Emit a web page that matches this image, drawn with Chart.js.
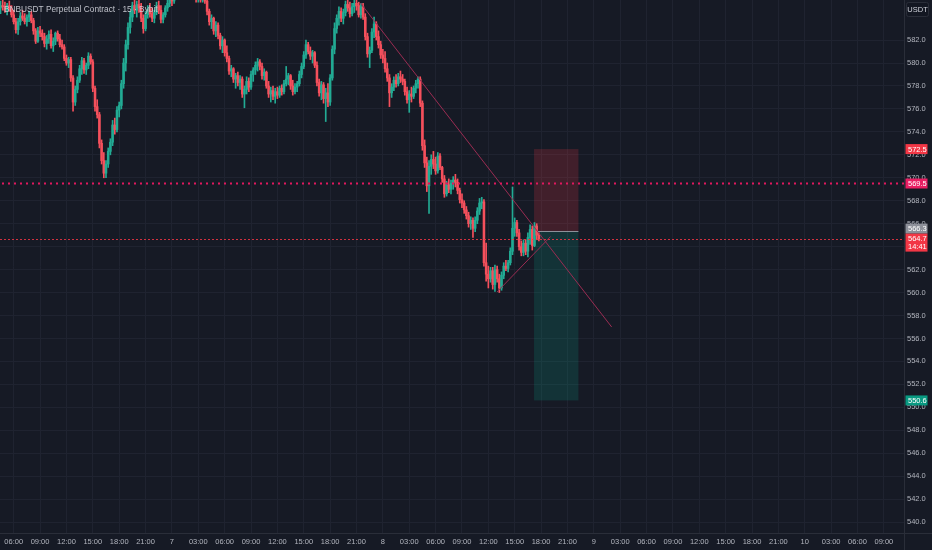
<!DOCTYPE html>
<html>
<head>
<meta charset="utf-8">
<script src="https://cdn.jsdelivr.net/npm/chart.js@4.4.1/dist/chart.umd.min.js"></script>
<style>
  html, body { margin: 0; padding: 0; background: #161a25; overflow: hidden; }
  canvas { display: block; }
</style>
</head>
<body>
<canvas id="chart" width="932" height="550"></canvas>
<script>
// BNBUSDT perpetual, 15 min candles (hours counted from day 6 00:00)
const firstBarHour = 4.5;
const barStepHours = 0.25;

const opens = [
  584.8, 585.0, 584.9, 584.6, 585.0, 584.7, 584.2, 583.6, 582.9, 583.6, 584.1, 583.9, 583.6, 584.0, 584.2, 583.7,
  582.8, 581.9, 582.8, 582.6, 582.3, 581.7, 582.1, 582.5, 581.5, 581.9, 582.6, 582.1, 581.6, 581.4, 580.4, 580.0,
  580.3, 578.7, 576.6, 577.7, 578.5, 579.5, 580.2, 579.4, 579.8, 580.6, 580.1, 577.8, 576.2, 575.5, 573.0, 571.5,
  570.4, 571.2, 572.3, 573.1, 574.6, 574.2, 575.9, 576.3, 578.2, 580.0, 581.6, 583.1, 584.0, 585.0, 584.6, 585.1,
  584.8, 583.9, 583.0, 584.2, 584.7, 584.3, 583.9, 584.4, 585.0, 584.6, 583.8, 584.2, 584.8, 585.2, 585.7, 585.4,
  586.1, 586.6, 587.0, 587.3, 587.1, 586.8, 586.5, 586.2, 586.6, 585.9, 585.6, 586.0, 585.5, 585.9, 585.4, 584.5,
  583.6, 583.9, 582.8, 583.3, 582.4, 581.5, 582.0, 580.9, 580.4, 579.3, 579.5, 578.6, 578.9, 578.3, 578.6, 577.3,
  577.7, 578.4, 577.9, 579.0, 579.4, 579.8, 580.1, 579.7, 578.9, 579.2, 578.0, 577.3, 577.6, 577.1, 577.5, 577.2,
  577.8, 577.5, 578.2, 578.6, 578.9, 578.0, 577.5, 577.9, 578.2, 579.0, 579.7, 580.7, 581.6, 581.0, 580.6, 580.9,
  579.8, 578.3, 577.4, 578.1, 576.9, 577.4, 576.6, 578.7, 581.2, 583.0, 583.9, 584.5, 583.9, 584.4, 585.1, 584.8,
  584.3, 584.9, 585.2, 585.0, 584.2, 584.9, 584.0, 582.3, 580.8, 581.1, 582.7, 583.4, 582.3, 581.6, 580.7, 580.4,
  579.5, 578.7, 577.4, 577.9, 578.5, 578.2, 578.8, 578.6, 578.4, 577.5, 576.8, 577.3, 577.1, 577.8, 578.2, 578.6,
  576.5, 572.8, 571.3, 569.3, 571.0, 571.6, 571.2, 570.6, 571.9, 570.9, 569.9, 568.6, 569.4, 569.0, 569.5, 569.8,
  569.6, 568.9, 568.1, 567.8, 567.2, 566.7, 566.0, 566.3, 565.6, 566.3, 567.1, 567.8, 567.9, 562.6, 561.6, 561.2,
  561.9, 560.7, 562.0, 561.2, 560.4, 561.5, 562.3, 562.1, 562.6, 563.6, 565.6, 566.1, 565.2, 564.0, 563.5, 564.3,
  563.6, 564.8, 565.5, 564.1, 565.8, 565.0
];
const highs = [
  585.4, 585.5, 585.3, 585.2, 585.4, 585.0, 584.6, 583.9, 583.9, 584.4, 584.6, 584.3, 584.2, 584.5, 584.5, 583.9,
  583.0, 583.1, 583.2, 582.9, 582.6, 582.4, 582.8, 582.9, 582.2, 582.7, 582.8, 582.5, 582.0, 581.6, 580.7, 580.5,
  580.5, 578.9, 578.0, 578.8, 579.8, 580.5, 580.4, 580.0, 580.9, 580.8, 580.3, 578.0, 576.8, 575.7, 573.3, 572.2,
  571.5, 572.6, 573.4, 575.0, 575.2, 576.2, 576.6, 578.5, 580.4, 582.0, 583.5, 584.5, 585.3, 585.5, 585.4, 585.5,
  585.2, 584.2, 584.5, 585.0, 585.2, 584.8, 584.6, 585.3, 585.4, 585.0, 584.4, 585.0, 585.5, 586.0, 586.3, 586.4,
  587.0, 587.4, 587.8, 587.9, 587.6, 587.3, 587.0, 586.9, 587.0, 586.3, 586.2, 586.4, 586.1, 586.2, 585.7, 584.7,
  584.2, 584.0, 583.6, 583.5, 582.6, 582.3, 582.1, 581.5, 580.6, 579.8, 579.6, 579.1, 579.2, 578.9, 578.8, 578.0,
  578.8, 578.7, 579.3, 579.6, 580.1, 580.4, 580.3, 580.0, 579.5, 579.3, 578.4, 577.9, 578.0, 577.8, 577.9, 578.0,
  578.1, 578.5, 579.7, 579.1, 579.0, 578.5, 578.2, 578.4, 579.3, 580.0, 581.0, 582.0, 581.8, 581.4, 581.1, 581.0,
  580.1, 578.6, 578.4, 578.3, 577.8, 578.2, 579.0, 581.5, 583.5, 584.2, 584.9, 584.8, 584.7, 585.4, 585.6, 585.3,
  585.2, 585.5, 585.6, 585.3, 585.2, 585.2, 584.3, 582.6, 581.4, 583.0, 584.0, 583.6, 582.8, 581.9, 581.2, 581.0,
  580.0, 579.0, 578.2, 578.8, 579.0, 579.1, 579.3, 579.0, 578.6, 577.9, 577.6, 577.9, 578.0, 578.5, 578.8, 578.8,
  576.7, 573.3, 571.8, 571.5, 572.0, 572.3, 571.8, 572.2, 572.1, 571.0, 570.2, 569.7, 569.9, 569.8, 570.1, 570.3,
  569.9, 569.1, 568.6, 568.0, 567.5, 567.0, 566.6, 566.5, 566.6, 567.4, 568.2, 568.3, 568.1, 564.3, 562.3, 562.2,
  562.2, 562.4, 562.3, 561.6, 561.8, 562.6, 562.8, 562.8, 563.9, 569.2, 566.5, 566.3, 565.5, 564.5, 564.6, 564.6,
  565.2, 565.9, 565.8, 566.1, 566.0, 565.2
];
const lows = [
  584.3, 584.6, 584.4, 584.2, 584.5, 584.0, 583.4, 582.6, 582.5, 583.3, 583.7, 583.4, 583.2, 583.6, 583.5, 582.5,
  581.7, 581.8, 582.3, 582.0, 581.4, 581.2, 581.7, 581.3, 581.0, 581.6, 581.9, 581.4, 581.2, 580.2, 579.8, 579.6,
  578.4, 575.8, 576.3, 577.4, 578.3, 579.0, 579.1, 579.0, 579.5, 579.9, 577.5, 575.8, 575.2, 572.6, 571.2, 570.0,
  570.0, 570.9, 572.0, 572.8, 573.8, 574.0, 575.3, 576.0, 577.8, 579.3, 581.2, 582.6, 583.6, 584.3, 584.0, 584.4,
  583.6, 582.6, 582.8, 583.9, 584.0, 583.6, 583.5, 584.2, 584.3, 583.5, 583.5, 584.0, 584.5, 584.9, 585.0, 585.2,
  585.8, 586.2, 586.6, 586.8, 586.5, 586.2, 585.9, 585.8, 585.6, 585.3, 585.3, 585.3, 585.3, 585.2, 584.2, 583.3,
  583.0, 582.5, 582.3, 582.1, 581.2, 580.9, 580.6, 580.1, 579.0, 578.8, 578.3, 577.8, 578.0, 577.7, 577.0, 576.1,
  577.3, 577.5, 577.7, 578.4, 579.0, 579.3, 579.4, 578.6, 578.5, 577.8, 577.0, 576.6, 576.8, 576.5, 576.9, 577.0,
  577.2, 577.3, 578.0, 578.1, 577.7, 577.2, 577.3, 577.5, 578.0, 578.7, 579.5, 580.4, 580.8, 580.3, 580.0, 579.6,
  578.0, 577.1, 576.8, 576.5, 574.9, 576.2, 576.3, 578.5, 580.8, 582.6, 583.3, 583.6, 583.4, 584.1, 584.5, 584.0,
  584.1, 584.4, 584.6, 584.0, 583.9, 583.8, 582.0, 580.5, 579.6, 580.9, 582.2, 582.0, 581.3, 580.4, 580.0, 579.2,
  578.4, 576.2, 577.0, 577.6, 577.9, 578.0, 578.3, 578.1, 577.2, 576.5, 575.7, 576.6, 576.9, 577.4, 577.8, 576.2,
  572.4, 570.9, 568.8, 566.9, 570.3, 570.8, 570.3, 570.4, 570.7, 569.6, 568.3, 568.4, 568.7, 568.6, 569.0, 569.2,
  568.6, 567.8, 567.4, 566.9, 566.4, 565.7, 565.5, 564.8, 565.3, 566.0, 566.8, 567.3, 562.3, 561.0, 560.4, 560.9,
  560.3, 560.1, 560.9, 560.0, 560.2, 561.2, 561.9, 561.8, 562.4, 563.3, 564.9, 564.9, 563.7, 563.2, 563.2, 563.3,
  563.1, 564.2, 563.7, 564.0, 564.6, 564.5
];
const closes = [
  585.0, 584.9, 584.6, 585.0, 584.7, 584.2, 583.6, 582.9, 583.6, 584.1, 583.9, 583.6, 584.0, 584.2, 583.7, 582.8,
  581.9, 582.8, 582.6, 582.3, 581.7, 582.1, 582.5, 581.5, 581.9, 582.6, 582.1, 581.6, 581.4, 580.4, 580.0, 580.3,
  578.7, 576.6, 577.7, 578.5, 579.5, 580.2, 579.4, 579.8, 580.6, 580.1, 577.8, 576.2, 575.5, 573.0, 571.5, 570.4,
  571.2, 572.3, 573.1, 574.6, 574.2, 575.9, 576.3, 578.2, 580.0, 581.6, 583.1, 584.0, 585.0, 584.6, 585.1, 584.8,
  583.9, 583.0, 584.2, 584.7, 584.3, 583.9, 584.4, 585.0, 584.6, 583.8, 584.2, 584.8, 585.2, 585.7, 585.4, 586.1,
  586.6, 587.0, 587.3, 587.1, 586.8, 586.5, 586.2, 586.6, 585.9, 585.6, 586.0, 585.5, 585.9, 585.4, 584.5, 583.6,
  583.9, 582.8, 583.3, 582.4, 581.5, 582.0, 580.9, 580.4, 579.3, 579.5, 578.6, 578.9, 578.3, 578.6, 577.3, 577.7,
  578.4, 577.9, 579.0, 579.4, 579.8, 580.1, 579.7, 578.9, 579.2, 578.0, 577.3, 577.6, 577.1, 577.5, 577.2, 577.8,
  577.5, 578.2, 578.6, 578.9, 578.0, 577.5, 577.9, 578.2, 579.0, 579.7, 580.7, 581.6, 581.0, 580.6, 580.9, 579.8,
  578.3, 577.4, 578.1, 576.9, 577.4, 576.6, 578.7, 581.2, 583.0, 583.9, 584.5, 583.9, 584.4, 585.1, 584.8, 584.3,
  584.9, 585.2, 585.0, 584.2, 584.9, 584.0, 582.3, 580.8, 581.1, 582.7, 583.4, 582.3, 581.6, 580.7, 580.4, 579.5,
  578.7, 577.4, 577.9, 578.5, 578.2, 578.8, 578.6, 578.4, 577.5, 576.8, 577.3, 577.1, 577.8, 578.2, 578.6, 576.5,
  572.8, 571.3, 569.3, 571.0, 571.6, 571.2, 570.6, 571.9, 570.9, 569.9, 568.6, 569.4, 569.0, 569.5, 569.8, 569.6,
  568.9, 568.1, 567.8, 567.2, 566.7, 566.0, 566.3, 565.6, 566.3, 567.1, 567.8, 567.9, 562.6, 561.6, 561.2, 561.9,
  560.7, 562.0, 561.2, 560.4, 561.5, 562.3, 562.1, 562.6, 563.6, 565.6, 566.1, 565.2, 564.0, 563.5, 564.3, 563.6,
  564.8, 565.5, 564.1, 565.8, 565.0, 564.7
];

// time axis
const tickHours = [6, 9, 12, 15, 18, 21, 24, 27, 30, 33, 36, 39, 42, 45, 48, 51, 54, 57, 60, 63, 66, 69, 72,
  75, 78, 81, 84, 87, 90, 93, 96, 99, 102, 105];
const tickLabels = ['06:00', '09:00', '12:00', '15:00', '18:00', '21:00', '7', '03:00', '06:00', '09:00', '12:00',
  '15:00', '18:00', '21:00', '8', '03:00', '06:00', '09:00', '12:00', '15:00', '18:00', '21:00', '9', '03:00',
  '06:00', '09:00', '12:00', '15:00', '18:00', '21:00', '10', '03:00', '06:00', '09:00'];
const priceTicks = [540, 542, 544, 546, 548, 550, 552, 554, 556, 558, 560, 562, 564, 566, 568, 570, 572, 574,
  576, 578, 580, 582];

// drawings
const downTrendHours = [45.44, 74.03];
const downTrendPrices = [585.23, 557.0];
const upTrendHours = [60.99, 67.08];
const upTrendPrices = [560.05, 564.88];
const positionHours = [65.2, 70.25];
const stopPrice = 572.5;
const entryPrice = 565.35;
const targetPrice = 550.6;
const alertPrice = 569.5;
const lastPrice = 564.7;
const entryTag = '566.3';
const countdown = '14:41';

// visible window
const viewHours = [4.44, 107.29];
const viewPrices = [539.05, 585.49];

const UP = '#22ab94';
const DOWN = '#f5505c';
const BG = '#161a25';
const GRID = '#1f2330';
const AXIS_LINE = '#2a2e39';
const TEXT = '#b2b5be';
const FONT = '"Liberation Sans Narrow", "Liberation Sans", Arial, sans-serif';

const barHours = closes.map((c, i) => firstBarHour + i * barStepHours);
const barColors = closes.map((c, i) => (c >= opens[i] ? UP : DOWN));

const overlayPlugin = {
  id: 'overlay',
  beforeDraw(chart) {
    const { ctx } = chart;
    ctx.save();
    ctx.fillStyle = BG;
    ctx.fillRect(0, 0, chart.width, chart.height);
    ctx.restore();
  },
  beforeDatasetsDraw(chart) {
    const { ctx, scales: { x, y } } = chart;
    const x0 = x.getPixelForValue(positionHours[0]);
    const x1 = x.getPixelForValue(positionHours[1]);
    const yStop = y.getPixelForValue(stopPrice);
    const yEntry = y.getPixelForValue(entryPrice);
    const yTarget = y.getPixelForValue(targetPrice);
    ctx.save();
    ctx.fillStyle = 'rgba(242, 54, 69, 0.2)';
    ctx.fillRect(x0, yStop, x1 - x0, yEntry - yStop);
    ctx.fillStyle = 'rgba(8, 153, 129, 0.2)';
    ctx.fillRect(x0, yEntry, x1 - x0, yTarget - yEntry);
    ctx.strokeStyle = '#8d909a';
    ctx.lineWidth = 1;
    ctx.beginPath();
    ctx.moveTo(x0, Math.round(yEntry) + 0.5);
    ctx.lineTo(x1, Math.round(yEntry) + 0.5);
    ctx.stroke();
    ctx.restore();
  },
  afterDatasetsDraw(chart) {
    const { ctx, chartArea, scales: { y } } = chart;
    ctx.save();
    // alert level
    const yAlert = y.getPixelForValue(alertPrice);
    ctx.strokeStyle = '#e0185e';
    ctx.lineWidth = 2;
    ctx.setLineDash([2, 4]);
    ctx.beginPath();
    ctx.moveTo(chartArea.left + 2, yAlert);
    ctx.lineTo(chartArea.right, yAlert);
    ctx.stroke();
    // last price
    const yLast = Math.round(y.getPixelForValue(lastPrice)) + 0.5;
    ctx.strokeStyle = 'rgba(242, 54, 69, 0.85)';
    ctx.lineWidth = 1;
    ctx.setLineDash([2, 2]);
    ctx.beginPath();
    ctx.moveTo(chartArea.left, yLast);
    ctx.lineTo(chartArea.right, yLast);
    ctx.stroke();
    ctx.restore();
  },
  afterDraw(chart) {
    const { ctx, chartArea, scales: { y } } = chart;
    ctx.save();
    // pane separators
    ctx.strokeStyle = AXIS_LINE;
    ctx.lineWidth = 1;
    ctx.beginPath();
    ctx.moveTo(Math.round(chartArea.right) + 0.5, 0);
    ctx.lineTo(Math.round(chartArea.right) + 0.5, chart.height);
    ctx.moveTo(0, Math.round(chartArea.bottom) + 0.5);
    ctx.lineTo(chart.width, Math.round(chartArea.bottom) + 0.5);
    ctx.stroke();

    // price tags on the axis
    const tagX = chartArea.right + 1.5;
    const tagW = 22;
    const tag = (cy, h, fill, lines) => {
      ctx.fillStyle = fill;
      ctx.fillRect(tagX, cy - h / 2, tagW, h);
      ctx.fillStyle = '#ffffff';
      ctx.font = '7.5px ' + FONT;
      ctx.textAlign = 'left';
      ctx.textBaseline = 'middle';
      lines.forEach((t, k) => ctx.fillText(t, tagX + 2.5, cy - (lines.length - 1) * 4 + k * 8 + 0.5));
    };
    const yLast = y.getPixelForValue(lastPrice);
    const lastTop = yLast - 5;
    tag(y.getPixelForValue(stopPrice), 10, '#f23645', [stopPrice.toFixed(1)]);
    tag(y.getPixelForValue(alertPrice), 10, '#e91e63', [alertPrice.toFixed(1)]);
    tag(y.getPixelForValue(targetPrice), 10, '#089981', [targetPrice.toFixed(1)]);
    tag(Math.min(y.getPixelForValue(entryPrice), lastTop - 5), 10, '#8d909a', [entryTag]);
    tag(lastTop + 9, 18, '#f23645', [lastPrice.toFixed(1), countdown]);

    // currency box
    ctx.strokeStyle = AXIS_LINE;
    ctx.fillStyle = '#131722';
    ctx.beginPath();
    ctx.roundRect(906.5, 2.5, 22, 14, 2);
    ctx.fill();
    ctx.stroke();
    ctx.fillStyle = '#d1d4dc';
    ctx.font = '7.5px ' + FONT;
    ctx.textAlign = 'center';
    ctx.textBaseline = 'middle';
    ctx.fillText('USDT', 917.5, 10);

    // symbol title
    ctx.textAlign = 'left';
    ctx.fillStyle = 'rgba(209, 212, 220, 0.9)';
    ctx.font = '8.3px ' + FONT;
    ctx.fillText('BNBUSDT Perpetual Contract \u00b7 15 \u00b7 Bybit', 4, 10);
    ctx.restore();
  }
};

const ctx = document.getElementById('chart').getContext('2d');
const chart = new Chart(ctx, {
  type: 'bar',
  data: {
    datasets: [
      {
        type: 'line',
        data: downTrendHours.map((h, i) => ({ x: h, y: downTrendPrices[i] })),
        borderColor: '#9a2c52',
        borderWidth: 1,
        pointRadius: 0,
        order: 0
      },
      {
        type: 'line',
        data: upTrendHours.map((h, i) => ({ x: h, y: upTrendPrices[i] })),
        borderColor: '#9a2c52',
        borderWidth: 1,
        pointRadius: 0,
        order: 0
      },
      {
        label: 'wicks',
        data: barHours.map((h, i) => ({ x: h, y: [lows[i], highs[i]] })),
        backgroundColor: barColors,
        barThickness: 1,
        grouped: false,
        borderWidth: 0,
        order: 2
      },
      {
        label: 'bodies',
        data: barHours.map((h, i) => ({ x: h, y: [opens[i], closes[i]] })),
        backgroundColor: barColors,
        barThickness: 1.9,
        minBarLength: 1,
        grouped: false,
        borderWidth: 0,
        order: 1
      }
    ]
  },
  options: {
    responsive: false,
    animation: false,
    events: [],
    layout: { padding: 0 },
    plugins: {
      legend: { display: false },
      tooltip: { enabled: false }
    },
    scales: {
      x: {
        type: 'linear',
        min: viewHours[0],
        max: viewHours[1],
        offset: false,
        grid: { color: GRID, offset: false, drawTicks: false },
        border: { display: false },
        ticks: {
          autoSkip: false,
          maxRotation: 0,
          padding: 4,
          color: TEXT,
          font: { family: FONT, size: 7.5 },
          callback: v => tickLabels[tickHours.indexOf(v)]
        },
        afterBuildTicks: s => { s.ticks = tickHours.map(v => ({ value: v })); },
        afterFit: s => { s.height = 17; s.paddingLeft = 0; s.paddingRight = 0; }
      },
      y: {
        position: 'right',
        min: viewPrices[0],
        max: viewPrices[1],
        grid: { color: GRID, drawTicks: false },
        border: { display: false },
        ticks: {
          padding: 3,
          color: TEXT,
          font: { family: FONT, size: 7.5 },
          callback: v => v.toFixed(1)
        },
        afterBuildTicks: s => { s.ticks = priceTicks.map(v => ({ value: v })); },
        afterFit: s => { s.width = 28; s.paddingTop = 0; s.paddingBottom = 0; }
      }
    }
  },
  plugins: [overlayPlugin]
});
</script>
</body>
</html>
